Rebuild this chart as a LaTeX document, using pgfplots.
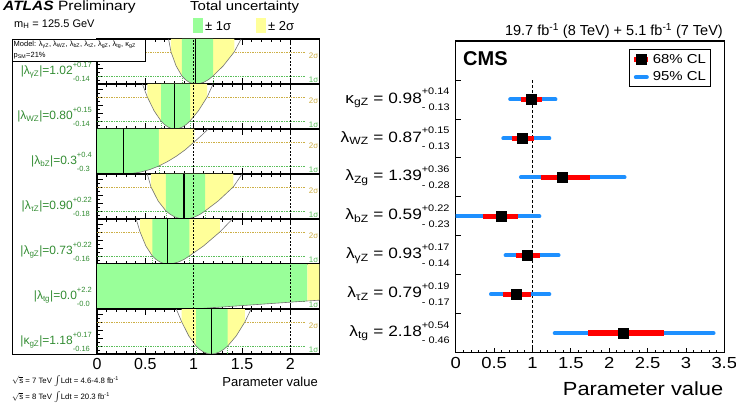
\documentclass[border=0pt]{standalone}
\usepackage{pgfplots}
\pgfplotsset{compat=1.18}
\usepackage{pgfplotstable}
\usepackage{fontspec}
\setmainfont{Liberation Sans}
\newfontfamily\cmsw[FakeStretch=1.15]{Liberation Sans}
\definecolor{agreen}{RGB}{153,255,153}
\definecolor{ayellow}{RGB}{255,255,153}
\definecolor{lblgreen}{RGB}{50,140,50}
\definecolor{sig1}{RGB}{90,190,90}
\definecolor{sig2}{RGB}{205,175,70}
\definecolor{cmsblue}{RGB}{30,144,255}
\newcommand{\fs}[1]{\fontsize{#1}{#1}\selectfont}
% stacked super/subscript: size, row pitch, sup, sub
\newcommand{\ud}[4]{$\vcenter{\hbox{\fontsize{#1}{#2}\selectfont\renewcommand{\arraystretch}{1}\begin{tabular}{@{}l@{}}#3\\#4\end{tabular}}}$}

\pgfplotstableread{
y v ep68 em68 ep95 em95
7 0.98 0.14 0.13 0.32 0.27
6 0.87 0.15 0.13 0.35 0.25
5 1.39 0.36 0.28 0.81 0.54
4 0.59 0.22 0.23 0.50 0.59
3 0.93 0.17 0.14 0.41 0.28
2 0.79 0.19 0.17 0.43 0.33
1 2.18 0.54 0.46 1.18 0.89
}\cmsdata

\pgfplotsset{
 strip/.style={scale only axis, width=222.4pt, height=45pt, xmin=0, xmax=2.3, ymin=0, ymax=5.6,
   anchor=north west, at={(97pt,#1)}, xtick={0,0.5,1,1.5,2}, minor x tick num=4, xticklabels={},
   ytick={0,1,2,3,4,5}, minor y tick num=1, yticklabels={}, xtick pos=both, ytick pos=left,
   tick align=inside, major tick length=6pt, minor tick length=3pt,
   axis line style={line width=1.1pt}, tick style={black, line width=0.6pt}},
 curve/.style={black!55, line width=0.6pt},
 l1/.style={sig1, densely dotted, line width=0.7pt},
 l2/.style={sig2, densely dotted, line width=0.7pt},
 vl/.style={black, dash pattern=on 2pt off 1.5pt, line width=0.8pt},
 bf/.style={black, line width=1.1pt},
}
\newcommand{\levels}{%
 \addplot[l1] coordinates {(0,1) (2.15,1)};
 \addplot[l2] coordinates {(0,4) (2.15,4)};
 \node[anchor=north east, inner sep=1pt, text=sig1, font=\fs{8}] at (axis cs:2.3,1) {1σ};
 \node[anchor=north east, inner sep=1pt, text=sig2, font=\fs{8}] at (axis cs:2.3,4) {2σ};
}
\newcommand{\vlines}{%
 \addplot[vl] coordinates {(1,0) (1,5.6)};
 \addplot[vl] coordinates {(2,0) (2,5.6)};
}
\newcommand{\onesig}[2]{%
 \addplot[l1] coordinates {(#1,0) (#1,1)};
 \addplot[l1] coordinates {(#2,0) (#2,1)};
}

\begin{document}
\begin{tikzpicture}
\useasboundingbox (0,0) rectangle (736pt,410pt);

% ---------- ATLAS strips ----------
% strip 1: lambda_gammaZ
\begin{axis}[strip=371pt]
\levels
\addplot[fill=ayellow, draw=none] coordinates {(0.765,5.6) (0.765,4) (0.818,2.25) (0.878,1) (0.9135,0.5625) (0.949,0.25) (0.9845,0.0625) (1.02,0) (1.065,0.0625) (1.11,0.25) (1.155,0.5625) (1.20,1) (1.305,2.25) (1.42,4) (1.42,5.6)};
\addplot[fill=agreen, draw=none] coordinates {(0.878,5.6) (0.878,1) (0.9135,0.5625) (0.949,0.25) (0.9845,0.0625) (1.02,0) (1.065,0.0625) (1.11,0.25) (1.155,0.5625) (1.20,1) (1.20,5.6)};
\onesig{0.878}{1.20}
\addplot[curve] coordinates {(0.74,5.6) (0.765,4) (0.818,2.25) (0.878,1) (0.9135,0.5625) (0.949,0.25) (0.9845,0.0625) (1.02,0) (1.065,0.0625) (1.11,0.25) (1.155,0.5625) (1.20,1) (1.305,2.25) (1.42,4) (1.49,5.6)};
\addplot[bf] coordinates {(1.02,0) (1.02,5.6)};
\vlines
\end{axis}
% strip 2: lambda_WZ
\begin{axis}[strip=326pt]
\levels
\addplot[fill=ayellow, draw=none] coordinates {(0.52,5.6) (0.52,4) (0.591,2.25) (0.662,1) (0.698,0.5625) (0.7335,0.25) (0.769,0.0625) (0.805,0) (0.844,0.0625) (0.8835,0.25) (0.923,0.5625) (0.962,1) (1.048,2.25) (1.14,4) (1.14,5.6)};
\addplot[fill=agreen, draw=none] coordinates {(0.662,5.6) (0.662,1) (0.698,0.5625) (0.7335,0.25) (0.769,0.0625) (0.805,0) (0.844,0.0625) (0.8835,0.25) (0.923,0.5625) (0.962,1) (0.962,5.6)};
\onesig{0.662}{0.962}
\addplot[curve] coordinates {(0.469,5.6) (0.52,4) (0.591,2.25) (0.662,1) (0.698,0.5625) (0.7335,0.25) (0.769,0.0625) (0.805,0) (0.844,0.0625) (0.8835,0.25) (0.923,0.5625) (0.962,1) (1.048,2.25) (1.14,4) (1.201,5.6)};
\addplot[bf] coordinates {(0.805,0) (0.805,5.6)};
\vlines
\end{axis}
% strip 3: lambda_bZ
\begin{axis}[strip=281pt]
\levels
\addplot[fill=agreen, draw=none] coordinates {(0,5.6) (0,0.1) (0.1,0.04) (0.2,0.008) (0.27,0) (0.35,0.047) (0.45,0.237) (0.55,0.57) (0.641,1) (0.641,5.6)};
\addplot[fill=ayellow, draw=none] coordinates {(0.641,5.6) (0.641,1) (0.73,1.55) (0.82,2.21) (0.91,2.99) (1.006,4) (1.006,5.6)};
\addplot[l1] coordinates {(0.641,0) (0.641,1)};
\addplot[curve] coordinates {(0,0.1) (0.1,0.04) (0.2,0.008) (0.27,0) (0.35,0.047) (0.45,0.237) (0.55,0.57) (0.641,1) (0.73,1.55) (0.82,2.21) (0.91,2.99) (1.006,4) (1.08,4.79) (1.15,5.6)};
\addplot[bf] coordinates {(0.27,0) (0.27,5.6)};
\vlines
\end{axis}
% strip 4: lambda_tauZ
\begin{axis}[strip=236pt]
\levels
\addplot[fill=ayellow, draw=none] coordinates {(0.558,5.6) (0.558,4) (0.6315,2.25) (0.713,1) (0.76,0.5625) (0.8065,0.25) (0.853,0.0625) (0.90,0) (0.954,0.0625) (1.0085,0.25) (1.063,0.5625) (1.117,1) (1.254,2.25) (1.41,4) (1.41,5.6)};
\addplot[fill=agreen, draw=none] coordinates {(0.713,5.6) (0.713,1) (0.76,0.5625) (0.8065,0.25) (0.853,0.0625) (0.90,0) (0.954,0.0625) (1.0085,0.25) (1.063,0.5625) (1.117,1) (1.117,5.6)};
\onesig{0.713}{1.117}
\addplot[curve] coordinates {(0.52,5.6) (0.558,4) (0.6315,2.25) (0.713,1) (0.76,0.5625) (0.8065,0.25) (0.853,0.0625) (0.90,0) (0.954,0.0625) (1.0085,0.25) (1.063,0.5625) (1.117,1) (1.254,2.25) (1.41,4) (1.50,5.6)};
\addplot[bf] coordinates {(0.90,0) (0.90,5.6)};
\vlines
\end{axis}
% strip 5: lambda_gZ
\begin{axis}[strip=191pt]
\levels
\addplot[fill=ayellow, draw=none] coordinates {(0.445,5.6) (0.445,4) (0.505,2.25) (0.572,1) (0.6115,0.5625) (0.651,0.25) (0.6905,0.0625) (0.73,0) (0.786,0.0625) (0.8425,0.25) (0.899,0.5625) (0.955,1) (1.102,2.25) (1.272,4) (1.272,5.6)};
\addplot[fill=agreen, draw=none] coordinates {(0.572,5.6) (0.572,1) (0.6115,0.5625) (0.651,0.25) (0.6905,0.0625) (0.73,0) (0.786,0.0625) (0.8425,0.25) (0.899,0.5625) (0.955,1) (0.955,5.6)};
\onesig{0.572}{0.955}
\addplot[curve] coordinates {(0.405,5.6) (0.445,4) (0.505,2.25) (0.572,1) (0.6115,0.5625) (0.651,0.25) (0.6905,0.0625) (0.73,0) (0.786,0.0625) (0.8425,0.25) (0.899,0.5625) (0.955,1) (1.102,2.25) (1.272,4) (1.40,5.6)};
\addplot[bf] coordinates {(0.73,0) (0.73,5.6)};
\vlines
\end{axis}
% strip 6: lambda_tg
\begin{axis}[strip=146pt]
\levels
\addplot[fill=agreen, draw=none] coordinates {(0,5.6) (0,0) (1,0) (1.6,0.51) (2.175,1) (2.175,5.6)};
\addplot[fill=ayellow, draw=none] coordinates {(2.175,5.6) (2.175,1) (2.3,1.1) (2.3,5.6)};
\addplot[curve] coordinates {(0,0) (1,0) (1.6,0.51) (2.175,1) (2.3,1.1)};
\vlines
\end{axis}
% strip 7: kappa_gZ
\begin{axis}[strip=101pt, xticklabels={0,0.5,1,1.5,2}, xticklabel style={font=\fs{16}, yshift=-1pt}]
\levels
\addplot[fill=ayellow, draw=none] coordinates {(0.876,5.6) (0.876,4) (0.949,2.25) (1.024,1) (1.063,0.5625) (1.102,0.25) (1.141,0.0625) (1.18,0) (1.223,0.0625) (1.266,0.25) (1.309,0.5625) (1.352,1) (1.44,2.25) (1.53,4) (1.53,5.6)};
\addplot[fill=agreen, draw=none] coordinates {(1.024,5.6) (1.024,1) (1.063,0.5625) (1.102,0.25) (1.141,0.0625) (1.18,0) (1.223,0.0625) (1.266,0.25) (1.309,0.5625) (1.352,1) (1.352,5.6)};
\onesig{1.024}{1.352}
\addplot[curve] coordinates {(0.82,5.6) (0.876,4) (0.949,2.25) (1.024,1) (1.063,0.5625) (1.102,0.25) (1.141,0.0625) (1.18,0) (1.223,0.0625) (1.266,0.25) (1.309,0.5625) (1.352,1) (1.44,2.25) (1.53,4) (1.594,5.6)};
\addplot[bf] coordinates {(1.185,0) (1.185,5.6)};
\vlines
\end{axis}

% ATLAS frame, model box, labels
\draw[line width=0.8pt] (12pt,371pt) -- (12pt,56pt) -- (97pt,56pt);
\draw[line width=0.8pt, fill=white] (12pt,371pt) rectangle (145pt,348.3pt);
\node[anchor=west, inner sep=0] at (13.5pt,365pt) {\fs{7.5}Model: λ\textsubscript{γZ}, λ\textsubscript{WZ}, λ\textsubscript{bZ}, λ\textsubscript{τZ}, λ\textsubscript{gZ}, λ\textsubscript{tg}, κ\textsubscript{gZ}};
\node[anchor=west, inner sep=0] at (13.5pt,354.5pt) {\fs{7.5}p\textsubscript{SM}=21\%};
\begin{scope}[every node/.style={anchor=east, inner sep=0, text=lblgreen, font=\fs{12}}]
\node at (92pt,338.4pt) {|λ\textsubscript{γZ}|=1.02\ud{7.5}{13.5}{+0.17}{-0.14}};
\node at (92pt,293.4pt) {|λ\textsubscript{WZ}|=0.80\ud{7.5}{13.5}{+0.15}{-0.14}};
\node at (92pt,248.4pt) {|λ\textsubscript{bZ}|=0.3\ud{7.5}{13.5}{+0.4}{-0.3}};
\node at (92pt,203.4pt) {|λ\textsubscript{τZ}|=0.90\ud{7.5}{13.5}{+0.22}{-0.18}};
\node at (92pt,158.4pt) {|λ\textsubscript{gZ}|=0.73\ud{7.5}{13.5}{+0.22}{-0.16}};
\node at (92pt,113.4pt) {|λ\textsubscript{tg}|=0.0\ud{7.5}{13.5}{+2.2}{-0.0}};
\node at (92pt,68.4pt) {|κ\textsubscript{gZ}|=1.18\ud{7.5}{13.5}{+0.17}{-0.16}};
\end{scope}
\node[anchor=base west, inner sep=0] at (3pt,399.3pt) {\cmsw\fs{13.5}\textbf{\textit{ATLAS}} Preliminary};
\node[anchor=base west, inner sep=0] at (14pt,382.7pt) {\fs{11}m\textsubscript{H} = 125.5 GeV};
\node[anchor=base west, inner sep=0] at (190pt,399pt) {\cmsw\fs{13}Total uncertainty};
\fill[agreen] (193pt,376.7pt) rectangle (203pt,391.7pt);
\node[anchor=base west, inner sep=0] at (205pt,379pt) {\fs{13}± 1σ};
\fill[ayellow] (256pt,376.7pt) rectangle (266pt,391.7pt);
\node[anchor=base west, inner sep=0] at (268pt,379pt) {\fs{13}± 2σ};
\node[anchor=base east, inner sep=0] at (318pt,24pt) {\fs{13}Parameter value};
\node[anchor=base west, inner sep=0] at (12pt,27pt) {\fs{7.8}$\sqrt{\mbox{s}}$ = 7 TeV $\int$Ldt = 4.6-4.8 fb\textsuperscript{-1}};
\node[anchor=base west, inner sep=0] at (12pt,10.5pt) {\fs{7.8}$\sqrt{\mbox{s}}$ = 8 TeV $\int$Ldt = 20.3 fb\textsuperscript{-1}};

% ---------- CMS ----------
\begin{axis}[scale only axis, width=268.6pt, height=311.7pt, anchor=south west, at={(455.7pt,57.3pt)},
  xmin=0, xmax=3.5, ymin=0.5, ymax=8.5,
  xtick={0,0.5,1,1.5,2,2.5,3,3.5}, minor x tick num=4,
  ytick={1.5,2.5,3.5,4.5,5.5,6.5,7.5}, yticklabels={},
  xtick pos=left, ytick pos=left, tick align=inside,
  major tick length=5pt, minor tick length=3pt,
  axis line style={line width=1.5pt}, tick style={black, line width=0.8pt},
  xticklabel style={font=\cmsw\fs{16}, yshift=-1pt},
  /pgf/number format/assume math mode=true,
  legend style={at={(0.9505,0.9734)}, anchor=north east, draw=black, line width=1pt,
    font=\cmsw\fs{13}, row sep=3pt, inner sep=2.5pt, cells={anchor=west}},
  ]
\addplot[black, dash pattern=on 3pt off 2pt, line width=1pt, forget plot] coordinates {(1,0.5) (1,7.5)};
\addplot[only marks, mark=none, forget plot, error bars/.cd, x dir=both, x explicit, error mark=none,
  error bar style={line width=4pt, cmsblue, line cap=round}]
  table[x=v, y=y, x error plus=ep95, x error minus=em95] {\cmsdata};
\addplot[only marks, mark=none, forget plot, error bars/.cd, x dir=both, x explicit, error mark=none,
  error bar style={line width=5.5pt, red}]
  table[x=v, y=y, x error plus=ep68, x error minus=em68] {\cmsdata};
\addplot[only marks, mark=square*, mark size=5pt, black, forget plot] table[x=v, y=y] {\cmsdata};
\addlegendimage{legend image code/.code={\draw[red, line width=5pt] (0pt,0pt) -- (14pt,0pt); \fill[black] (2pt,-5pt) rectangle (12pt,5pt);}}
\addlegendentry{68\% CL\hspace{20pt}}
\addlegendimage{legend image code/.code={\draw[cmsblue, line width=4pt, line cap=round] (1.5pt,0pt) -- (12.5pt,0pt);}}
\addlegendentry{95\% CL\hspace{20pt}}
\end{axis}
\begin{scope}[every node/.style={anchor=east, inner sep=0, font=\cmsw\fs{15}}]
\node at (450pt,310.5pt) {κ\textsubscript{gZ} = 0.98\ud{9.5}{15.3}{+0.14}{- 0.13}};
\node at (450pt,271.5pt) {λ\textsubscript{WZ} = 0.87\ud{9.5}{15.3}{+0.15}{- 0.13}};
\node at (450pt,232.6pt) {λ\textsubscript{Zg} = 1.39\ud{9.5}{15.3}{+0.36}{- 0.28}};
\node at (450pt,193.6pt) {λ\textsubscript{bZ} = 0.59\ud{9.5}{15.3}{+0.22}{- 0.23}};
\node at (450pt,154.7pt) {λ\textsubscript{γZ} = 0.93\ud{9.5}{15.3}{+0.17}{- 0.14}};
\node at (450pt,115.7pt) {λ\textsubscript{τZ} = 0.79\ud{9.5}{15.3}{+0.19}{- 0.17}};
\node at (450pt,76.8pt) {λ\textsubscript{tg} = 2.18\ud{9.5}{15.3}{+0.54}{- 0.46}};
\end{scope}
\node[anchor=base west, inner sep=0] at (463pt,344pt) {\fs{20}\textbf{CMS}};
\node[anchor=base east, inner sep=0] at (723pt,374.3pt) {\fs{14.5}19.7 fb\textsuperscript{-1} (8 TeV) +  5.1 fb\textsuperscript{-1} (7 TeV)};
\node[anchor=base east, inner sep=0] at (723.5pt,15pt) {\cmsw\fs{19}Parameter value};
\end{tikzpicture}
\end{document}
